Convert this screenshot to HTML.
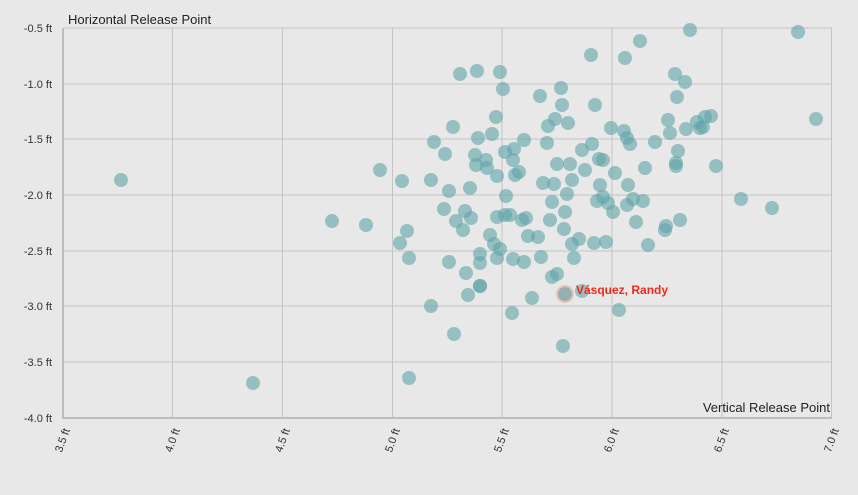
<!DOCTYPE html><html><head><style>body{margin:0;background:#e8e8e8}svg{display:block;font-family:"Liberation Sans",sans-serif}</style></head><body>
<svg width="858" height="495" viewBox="0 0 858 495">
<rect width="858" height="495" fill="#e8e8e8"/>
<g stroke="#c4c4c4" stroke-width="1">
<line x1="63" y1="28" x2="832" y2="28"/><line x1="63" y1="84" x2="832" y2="84"/><line x1="63" y1="139" x2="832" y2="139"/><line x1="63" y1="195" x2="832" y2="195"/><line x1="63" y1="251" x2="832" y2="251"/><line x1="63" y1="306" x2="832" y2="306"/><line x1="63" y1="362" x2="832" y2="362"/>
<line x1="172.5" y1="28" x2="172.5" y2="418"/><line x1="282.5" y1="28" x2="282.5" y2="418"/><line x1="392.5" y1="28" x2="392.5" y2="418"/><line x1="502" y1="28" x2="502" y2="418"/><line x1="612" y1="28" x2="612" y2="418"/><line x1="722" y1="28" x2="722" y2="418"/><line x1="831.5" y1="28" x2="831.5" y2="418"/>
</g>
<g stroke="#bdbdbd" stroke-width="2"><line x1="63" y1="28" x2="63" y2="418"/><line x1="62" y1="418" x2="832" y2="418"/></g>
<g font-size="11" fill="#333" text-anchor="end">
<text x="52" y="32">-0.5 ft</text><text x="52" y="88">-1.0 ft</text><text x="52" y="143">-1.5 ft</text><text x="52" y="199">-2.0 ft</text><text x="52" y="255">-2.5 ft</text><text x="52" y="310">-3.0 ft</text><text x="52" y="366">-3.5 ft</text><text x="52" y="422">-4.0 ft</text>
</g>
<g font-size="11" fill="#333" text-anchor="end">
<text transform="translate(70,430) rotate(-70)">3.5 ft</text><text transform="translate(180,430) rotate(-70)">4.0 ft</text><text transform="translate(290,430) rotate(-70)">4.5 ft</text><text transform="translate(400,430) rotate(-70)">5.0 ft</text><text transform="translate(509,430) rotate(-70)">5.5 ft</text><text transform="translate(619,430) rotate(-70)">6.0 ft</text><text transform="translate(729,430) rotate(-70)">6.5 ft</text><text transform="translate(839,430) rotate(-70)">7.0 ft</text>
</g>
<text x="68" y="24" font-size="13" fill="#222">Horizontal Release Point</text>
<text x="830" y="412" font-size="13" fill="#222" text-anchor="end">Vertical Release Point</text>
<circle cx="565" cy="294" r="9" fill="#e8b8b0" opacity="0.8"/>
<g fill="#5fa3a8" fill-opacity="0.6">
<circle cx="121" cy="180" r="7"/><circle cx="253" cy="383" r="7"/><circle cx="332" cy="221" r="7"/><circle cx="366" cy="225" r="7"/><circle cx="380" cy="170" r="7"/><circle cx="402" cy="181" r="7"/><circle cx="400" cy="243" r="7"/><circle cx="407" cy="231" r="7"/><circle cx="409" cy="258" r="7"/><circle cx="409" cy="378" r="7"/>
<circle cx="431" cy="306" r="7"/><circle cx="431" cy="180" r="7"/><circle cx="434" cy="142" r="7"/><circle cx="444" cy="209" r="7"/><circle cx="445" cy="154" r="7"/><circle cx="449" cy="191" r="7"/><circle cx="449" cy="262" r="7"/><circle cx="453" cy="127" r="7"/><circle cx="454" cy="334" r="7"/><circle cx="456" cy="221" r="7"/>
<circle cx="460" cy="74" r="7"/><circle cx="463" cy="230" r="7"/><circle cx="465" cy="211" r="7"/><circle cx="466" cy="273" r="7"/><circle cx="468" cy="295" r="7"/><circle cx="470" cy="188" r="7"/><circle cx="471" cy="218" r="7"/><circle cx="475" cy="155" r="7"/><circle cx="476" cy="165" r="7"/><circle cx="477" cy="71" r="7"/>
<circle cx="478" cy="138" r="7"/><circle cx="480" cy="254" r="7"/><circle cx="480" cy="263" r="7"/><circle cx="480" cy="286" r="7"/><circle cx="480" cy="286" r="7"/><circle cx="486" cy="160" r="7"/><circle cx="487" cy="168" r="7"/><circle cx="490" cy="235" r="7"/><circle cx="492" cy="134" r="7"/><circle cx="494" cy="244" r="7"/>
<circle cx="496" cy="117" r="7"/><circle cx="497" cy="176" r="7"/><circle cx="497" cy="217" r="7"/><circle cx="497" cy="258" r="7"/><circle cx="500" cy="72" r="7"/><circle cx="500" cy="249" r="7"/><circle cx="503" cy="89" r="7"/><circle cx="505" cy="152" r="7"/><circle cx="506" cy="196" r="7"/><circle cx="505" cy="215" r="7"/>
<circle cx="510" cy="215" r="7"/><circle cx="512" cy="313" r="7"/><circle cx="513" cy="259" r="7"/><circle cx="513" cy="160" r="7"/><circle cx="514" cy="149" r="7"/><circle cx="515" cy="175" r="7"/><circle cx="519" cy="172" r="7"/><circle cx="522" cy="220" r="7"/><circle cx="524" cy="140" r="7"/><circle cx="526" cy="218" r="7"/>
<circle cx="528" cy="236" r="7"/><circle cx="524" cy="262" r="7"/><circle cx="532" cy="298" r="7"/><circle cx="538" cy="237" r="7"/><circle cx="540" cy="96" r="7"/><circle cx="541" cy="257" r="7"/><circle cx="543" cy="183" r="7"/><circle cx="547" cy="143" r="7"/><circle cx="548" cy="126" r="7"/><circle cx="550" cy="220" r="7"/>
<circle cx="552" cy="202" r="7"/><circle cx="552" cy="277" r="7"/><circle cx="555" cy="119" r="7"/><circle cx="554" cy="184" r="7"/><circle cx="557" cy="164" r="7"/><circle cx="557" cy="274" r="7"/><circle cx="561" cy="88" r="7"/><circle cx="562" cy="105" r="7"/><circle cx="564" cy="229" r="7"/><circle cx="565" cy="212" r="7"/>
<circle cx="567" cy="194" r="7"/><circle cx="563" cy="346" r="7"/><circle cx="568" cy="123" r="7"/><circle cx="570" cy="164" r="7"/><circle cx="572" cy="180" r="7"/><circle cx="572" cy="244" r="7"/><circle cx="574" cy="258" r="7"/><circle cx="579" cy="239" r="7"/><circle cx="582" cy="150" r="7"/><circle cx="585" cy="170" r="7"/>
<circle cx="591" cy="55" r="7"/><circle cx="592" cy="144" r="7"/><circle cx="594" cy="243" r="7"/><circle cx="595" cy="105" r="7"/><circle cx="597" cy="201" r="7"/><circle cx="599" cy="159" r="7"/><circle cx="600" cy="185" r="7"/><circle cx="603" cy="160" r="7"/><circle cx="603" cy="197" r="7"/><circle cx="606" cy="242" r="7"/>
<circle cx="608" cy="203" r="7"/><circle cx="611" cy="128" r="7"/><circle cx="613" cy="212" r="7"/><circle cx="615" cy="173" r="7"/><circle cx="619" cy="310" r="7"/><circle cx="624" cy="131" r="7"/><circle cx="625" cy="58" r="7"/><circle cx="627" cy="138" r="7"/><circle cx="628" cy="185" r="7"/><circle cx="627" cy="205" r="7"/>
<circle cx="630" cy="144" r="7"/><circle cx="633" cy="199" r="7"/><circle cx="636" cy="222" r="7"/><circle cx="640" cy="41" r="7"/><circle cx="643" cy="201" r="7"/><circle cx="645" cy="168" r="7"/><circle cx="648" cy="245" r="7"/><circle cx="655" cy="142" r="7"/><circle cx="665" cy="230" r="7"/><circle cx="666" cy="226" r="7"/>
<circle cx="668" cy="120" r="7"/><circle cx="670" cy="133" r="7"/><circle cx="675" cy="74" r="7"/><circle cx="676" cy="166" r="7"/><circle cx="676" cy="163" r="7"/><circle cx="677" cy="97" r="7"/><circle cx="678" cy="151" r="7"/><circle cx="680" cy="220" r="7"/><circle cx="685" cy="82" r="7"/><circle cx="686" cy="129" r="7"/>
<circle cx="690" cy="30" r="7"/><circle cx="697" cy="122" r="7"/><circle cx="700" cy="128" r="7"/><circle cx="703" cy="127" r="7"/><circle cx="705" cy="117" r="7"/><circle cx="711" cy="116" r="7"/><circle cx="716" cy="166" r="7"/><circle cx="741" cy="199" r="7"/><circle cx="772" cy="208" r="7"/><circle cx="798" cy="32" r="7"/>
<circle cx="816" cy="119" r="7"/><circle cx="565" cy="294" r="7"/><circle cx="582" cy="291" r="7"/>
</g>
<text x="576" y="294" font-size="12" font-weight="bold" fill="#ee2a1a" font-family="Liberation Sans Narrow, Liberation Sans, sans-serif">Vásquez, Randy</text>
</svg></body></html>
